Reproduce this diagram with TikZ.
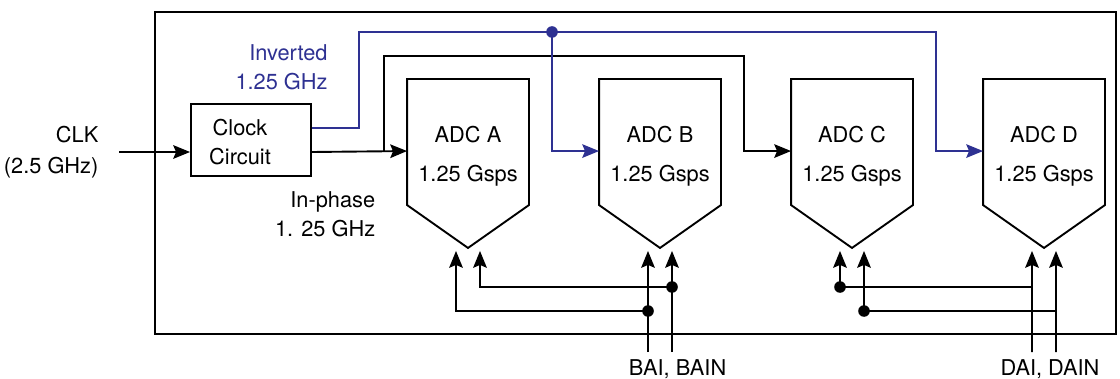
\documentclass[tikz,border=0pt]{standalone}
\usepackage{fontspec}
\setmainfont{TeX Gyre Heros}
\usetikzlibrary{arrows.meta, calc, positioning}
\definecolor{invBlue}{HTML}{2E3192}
\tikzset{
  % one line weight for the whole board, filled tips
  every picture/.append style = {line width=1.35pt, >={Stealth[length=4.2mm, width=3.4mm, inset=0.7mm]}},
  sig/.style      = {->, black},
  invsig/.style   = {->, invBlue},
  jdot/.style     = {circle, fill=black, inner sep=0pt, minimum size=2.9mm},
  lbl/.style      = {font=\fontsize{15.5}{20.5}\selectfont},
  adctxt/.style   = {font=\fontsize{15.5}{28.4}\selectfont, align=center},
  adcbody/.style  = {rectangle, minimum width=3cm, minimum height=4.175cm, inner sep=0pt},
}

\begin{document}
\begin{tikzpicture}[x=1cm, y=1cm]
  \useasboundingbox (0,0) rectangle (28,-9.475);
  % board outline
  \draw (3.875,-0.3) rectangle (27.9,-8.35);
  % clock circuit
  \node[draw, minimum width=3cm, minimum height=1.8cm, inner sep=0pt] (clock) at (6.275,-3.5) {};
  \node[lbl, align=center] (clocktxt) at ([xshift=-0.275cm, yshift=-0.05cm]clock.center) {Clock\\Circuit};
  % the four converters
  \foreach \n/\x in {A/11.7, B/16.5, C/21.3, D/26.1} {
    \node[adcbody] (adc\n) at (\x,-4.0875) {};
    \draw (adc\n.north west) -- (adc\n.north east) -- ++(0,-3.15) -- (adc\n.south)
       -- ($(adc\n.north west)+(0,-3.15)$) -- cycle;
    \node[adctxt] (adc\n txt) at ($(adc\n.north)+(0,-1.93)$) {ADC \n\\1.25 Gsps};
  }
  % clock input
  \coordinate (clkin) at (2.975,-3.8);
  \draw[sig] (clkin) -- (clkin -| clock.west);
  \node[lbl, align=right, anchor=east] (clklbl) at (2.6,-3.8) {CLK\\[1.3pt](2.5 GHz)};
  % in-phase clock to A and C
  \coordinate (ipjoin) at (9.6,-3.8);
  \coordinate (ipC) at (18.6,-1.4);
  \draw[sig] ([yshift=-0.3cm]clock.east) -- ([yshift=-1.8cm]adcA.north west);
  \draw[sig] (ipjoin) |- (ipC) |- ([yshift=-1.8cm]adcC.north west);
  \node[lbl, align=right, anchor=east] (iplbl) at (9.52,-5.35) {In-phase\\1. 25 GHz};
  % inverted clock to B and D
  \coordinate (invup) at (8.975,-0.8);
  \coordinate (invB) at (13.8,-0.8);
  \coordinate (invD) at (23.4,-0.8);
  \draw[invsig] ([yshift=0.3cm]clock.east) -| (invup) -- (invD) |- ([yshift=-1.8cm]adcD.north west);
  \draw[invsig] (invB) |- ([yshift=-1.8cm]adcB.north west);
  \node[jdot, fill=invBlue] (invdot) at (invB) {};
  \node[lbl, invBlue, align=right, anchor=east] (invlbl) at (8.33,-1.69) {Inverted\\1.25 GHz};
  % analog inputs
  \coordinate (bai) at (16.2,-8.8);
  \coordinate (bain) at (16.8,-8.8);
  \coordinate (dai) at (25.8,-8.8);
  \coordinate (dain) at (26.4,-8.8);
  \draw[sig] (bai) -- ([xshift=-0.3cm, yshift=-0.075cm]adcB.south);
  \draw[sig] (bain) -- ([xshift=0.3cm, yshift=-0.075cm]adcB.south);
  \draw[sig] (dai) -- ([xshift=-0.3cm, yshift=-0.075cm]adcD.south);
  \draw[sig] (dain) -- ([xshift=0.3cm, yshift=-0.075cm]adcD.south);
  \node[jdot] (bainj) at (16.8,-7.175) {};
  \node[jdot] (baij) at (16.2,-7.775) {};
  \draw[sig] (bainj.center) -| ([xshift=0.3cm, yshift=-0.075cm]adcA.south);
  \draw[sig] (baij.center) -| ([xshift=-0.3cm, yshift=-0.075cm]adcA.south);
  \node[jdot] (daij) at (21.0,-7.175) {};
  \node[jdot] (dainj) at (21.6,-7.775) {};
  \draw (daij.center) -- (daij -| dai);
  \draw (dainj.center) -- (dainj -| dain);
  \draw[sig] (daij.center) -- ([xshift=-0.3cm, yshift=-0.075cm]adcC.south);
  \draw[sig] (dainj.center) -- ([xshift=0.3cm, yshift=-0.075cm]adcC.south);
  \node[lbl] (blbl) at (16.94,-9.24) {BAI, BAIN};
  \node[lbl] (dlbl) at (26.25,-9.24) {DAI, DAIN};
\end{tikzpicture}
\end{document}
